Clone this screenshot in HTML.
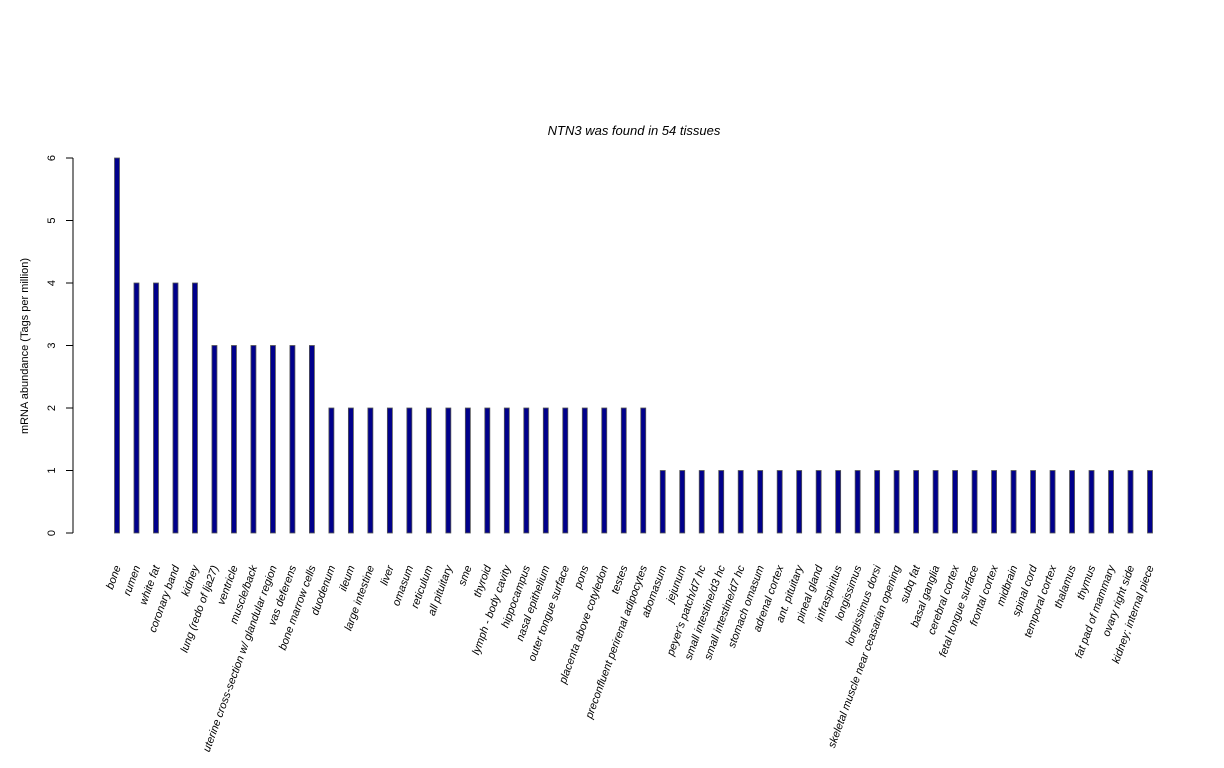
<!DOCTYPE html>
<html><head><meta charset="utf-8"><style>
body{margin:0;background:#fff;}
svg{display:block;font-family:"Liberation Sans",sans-serif;}
</style></head><body>
<svg id="chart" width="1224" height="768" xmlns="http://www.w3.org/2000/svg">
<text x="634" y="135" font-size="13" font-style="italic" text-anchor="middle">NTN3  was found in  54  tissues</text>
<text transform="translate(28,346) rotate(-90)" font-size="11" text-anchor="middle">mRNA abundance (Tags per million)</text>
<g id="yaxis"></g>
<g id="bars"></g>
<g id="xlabels"></g>
</svg>
<script>
const categories = ["bone","rumen","white fat","coronary band","kidney","lung (redo of lja27)","ventricle","muscle/back","uterine cross-section w/ glandular region","vas deferens","bone marrow cells","duodenum","ileum","large intestine","liver","omasum","reticulum","all pituitary","sme","thyroid","lymph - body cavity","hippocampus","nasal epithelium","outer tongue surface","pons","placenta above cotyledon","testes","preconfluent perirenal adipocytes","abomasum","jejunum","peyer's patch/d7 hc","small intestine/d3 hc","small intestine/d7 hc","stomach omasum","adrenal cortex","ant. pituitary","pineal gland","infraspinitus","longissimus","longissimus dorsi","skeletal muscle near ceasarian opening","subq fat","basal ganglia","cerebral cortex","fetal tongue surface","frontal cortex","midbrain","spinal cord","temporal cortex","thalamus","thymus","fat pad of mammary","ovary right side","kidney; internal piece"];
const values = [6,4,4,4,4,3,3,3,3,3,3,2,2,2,2,2,2,2,2,2,2,2,2,2,2,2,2,2,1,1,1,1,1,1,1,1,1,1,1,1,1,1,1,1,1,1,1,1,1,1,1,1,1,1];
const yTicks = [0,1,2,3,4,5,6];
const NS="http://www.w3.org/2000/svg";
const y0=533, yTop=158, yMax=6;
const yScale=v=>y0-(v/yMax)*(y0-yTop);
const x0=117, x1=1150;
const xScale=i=>x0+i*(x1-x0)/(categories.length-1);
const ya=document.getElementById('yaxis');
let l=document.createElementNS(NS,'line');


l.setAttribute('x1',73);l.setAttribute('x2',73);l.setAttribute('y1',yScale(0));l.setAttribute('y2',yScale(yMax));l.setAttribute('stroke','#000');
ya.appendChild(l);
yTicks.forEach(t=>{
  const tk=document.createElementNS(NS,'line');
  
  
  tk.setAttribute('x1',66);tk.setAttribute('x2',73);tk.setAttribute('y1',yScale(t));tk.setAttribute('y2',yScale(t));tk.setAttribute('stroke','#000');
  ya.appendChild(tk);
  const tx=document.createElementNS(NS,'text');
  
  
  tx.setAttribute('transform',`translate(55,${yScale(t)}) rotate(-90)`);
  tx.setAttribute('font-size','11');tx.setAttribute('text-anchor','middle');
  tx.textContent=t;
  ya.appendChild(tx);
});
const bg=document.getElementById('bars'), xl=document.getElementById('xlabels');
categories.forEach((c,i)=>{
  const x=xScale(i);
  const r=document.createElementNS(NS,'rect');
  
  
  r.setAttribute('x',x-2.5);r.setAttribute('width',5);
  r.setAttribute('y',yScale(values[i]));r.setAttribute('height',y0-yScale(values[i]));
  r.setAttribute('fill','#00008B');r.setAttribute('stroke','#555');r.setAttribute('stroke-width','0.8');
  bg.appendChild(r);
  const t=document.createElementNS(NS,'text');
  
  
  t.setAttribute('transform',`translate(${x+4},${567}) rotate(-70)`);
  t.setAttribute('font-size','11');t.setAttribute('font-style','italic');t.setAttribute('text-anchor','end');
  t.textContent=c;
  xl.appendChild(t);
});
</script>
</body></html>
